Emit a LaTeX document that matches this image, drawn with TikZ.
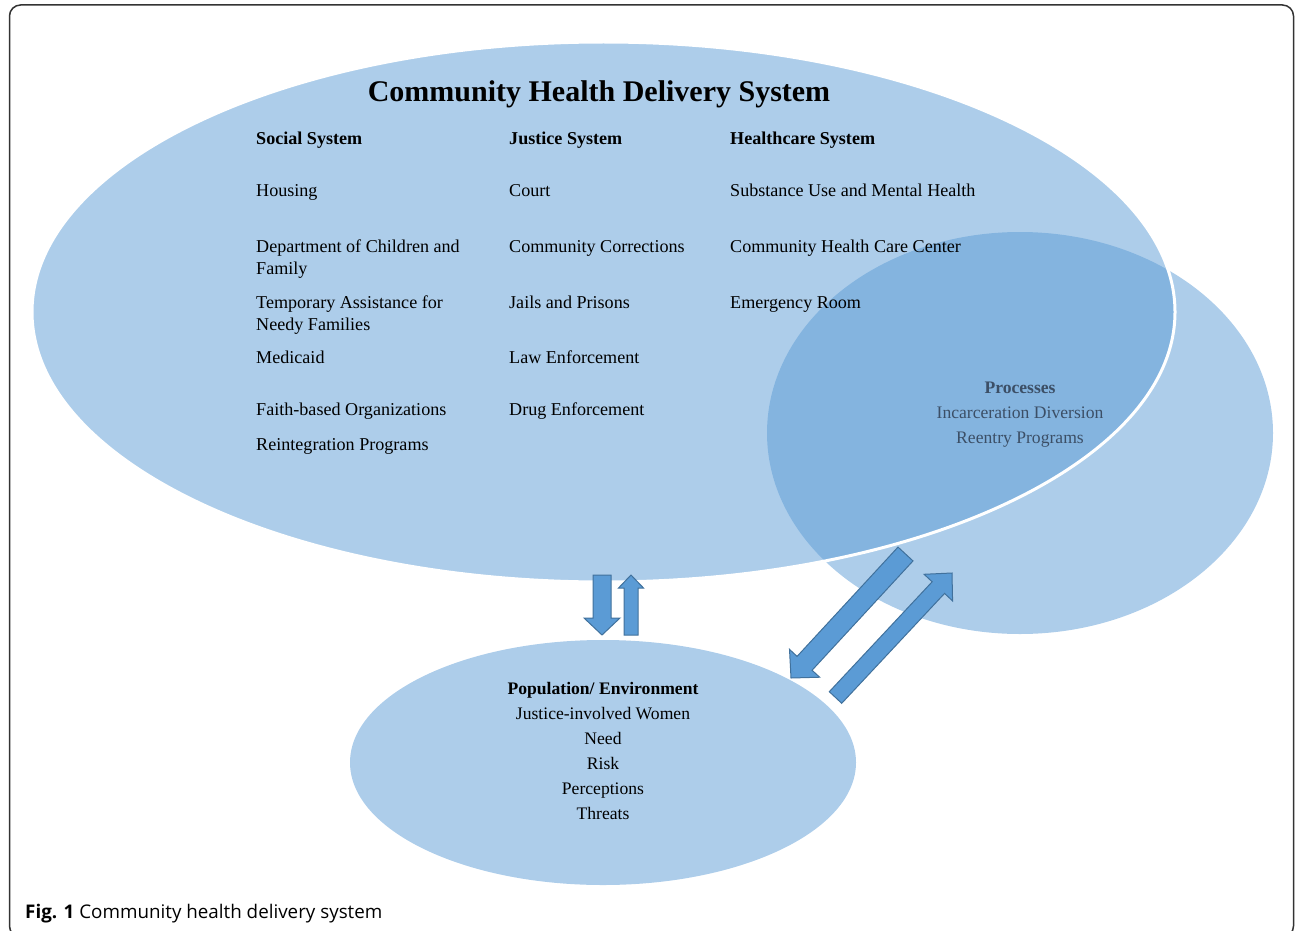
\documentclass[tikz,border=0pt]{standalone}
\usepackage{fontspec}
\setmainfont{Liberation Serif}
\newfontfamily\capfont{Open Sans}
\usetikzlibrary{calc,shapes.geometric}
\definecolor{ablue}{HTML}{5B9BD5}
\definecolor{aedge}{HTML}{41719C}
\definecolor{proctext}{HTML}{3C4F66}
\definecolor{framec}{HTML}{333333}
\newcommand\fatarrow[5]{% tail, tip, shaft half width, head half width, head length
  \draw[blockarrow] ($(#1)!#3!90:(#2)$) -- ($($(#2)!#5!(#1)$)!#3!90:(#2)$) -- ($($(#2)!#5!(#1)$)!#4!90:(#2)$) -- (#2) -- ($($(#2)!#5!(#1)$)!#4!-90:(#2)$) -- ($($(#2)!#5!(#1)$)!#3!-90:(#2)$) -- ($(#1)!#3!-90:(#2)$) -- cycle;}
\begin{document}
\begin{tikzpicture}[x=1pt,y=-1pt,
  blob/.style={ellipse, fill=ablue, fill opacity=.5, inner sep=0},
  txt/.style={anchor=base west, inner sep=0, font=\fontsize{18.1}{20}\selectfont},
  hd/.style={anchor=base west, inner sep=0, font=\bfseries\fontsize{18.1}{20}\selectfont},
  ctxt/.style={anchor=base, inner sep=0, font=\fontsize{17.6}{20}\selectfont},
  blockarrow/.style={fill=ablue, draw=aedge, line width=1, line join=miter}]
\useasboundingbox (0,0) rectangle (1295,931);
\draw[framec, line width=1.5, rounded corners=11] (9.5,5) rectangle (1293.5,937);

% ellipses
\node[blob, minimum width=506, minimum height=402] (procell) at (1020,433) {};
\node[blob, draw=white, draw opacity=1, line width=3, minimum width=1143, minimum height=540] (bigell) at (603.5,312) {};
\node[blob, minimum width=506, minimum height=245] (popell) at (603,762.5) {};

% title
\node[anchor=base, inner sep=0, font=\bfseries\fontsize{30}{34}\selectfont] (title) at (599,102) {Community Health Delivery System};

% social column
\node[hd] (soc) at (256,145) {Social System};
\node[txt] (hou) at (256,196) {Housing};
\node[txt] (dcf1) at (256,252) {Department of Children and};
\node[txt] (dcf2) at (256,274) {Family};
\node[txt] (tanf1) at (256,308) {Temporary Assistance for};
\node[txt] (tanf2) at (256,330) {Needy Families};
\node[txt] (med) at (256,363) {Medicaid};
\node[txt] (faith) at (256,415) {Faith-based Organizations};
\node[txt] (reint) at (256,450) {Reintegration Programs};

% justice column
\node[hd] (jus) at (509,145) {Justice System};
\node[txt] (court) at (509,196) {Court};
\node[txt] (cc) at (509,252) {Community Corrections};
\node[txt] (jail) at (509,308) {Jails and Prisons};
\node[txt] (law) at (509,363) {Law Enforcement};
\node[txt] (drug) at (509,415) {Drug Enforcement};

% healthcare column
\node[hd] (hc) at (730,145) {Healthcare System};
\node[txt] (sub) at (730,196) {Substance Use and Mental Health};
\node[txt] (chc) at (730,252) {Community Health Care Center};
\node[txt] (er) at (730,308) {Emergency Room};

% processes
\node[ctxt, text=proctext, font=\bfseries\fontsize{17.6}{20}\selectfont] (proc) at (1020,393) {Processes};
\node[ctxt, text=proctext] (incd) at (1020,418) {Incarceration Diversion};
\node[ctxt, text=proctext] (reen) at (1020,443) {Reentry Programs};

% population
\node[ctxt, font=\bfseries\fontsize{17.6}{20}\selectfont] (pop) at (603,694) {Population/ Environment};
\node[ctxt] (jiw) at (603,719) {Justice-involved Women};
\node[ctxt] (need) at (603,744) {Need};
\node[ctxt] (risk) at (603,769) {Risk};
\node[ctxt] (perc) at (603,794) {Perceptions};
\node[ctxt] (thr) at (603,819) {Threats};

% block arrows
\coordinate (d1s) at (602,575);
\coordinate (d1t) at (602,635);
\coordinate (u1s) at (631,635);
\coordinate (u1t) at (631,575);
\coordinate (a1s) at (905.5,554);
\coordinate (a1t) at (791,678);
\coordinate (a2s) at (835.5,697.5);
\coordinate (a2t) at (952,573);
\fatarrow{d1s}{d1t}{9pt}{18pt}{17pt}
\fatarrow{u1s}{u1t}{7pt}{12.5pt}{13pt}
\fatarrow{a1s}{a1t}{10.2pt}{20.5pt}{20pt}
\fatarrow{a2s}{a2t}{8.5pt}{19.5pt}{20pt}

% caption
\node[anchor=base west, inner sep=0, font=\capfont\fontsize{18.8}{22}\selectfont] (cap) at (25,918) {\textbf{Fig. 1} Community health delivery system};
\end{tikzpicture}
\end{document}
